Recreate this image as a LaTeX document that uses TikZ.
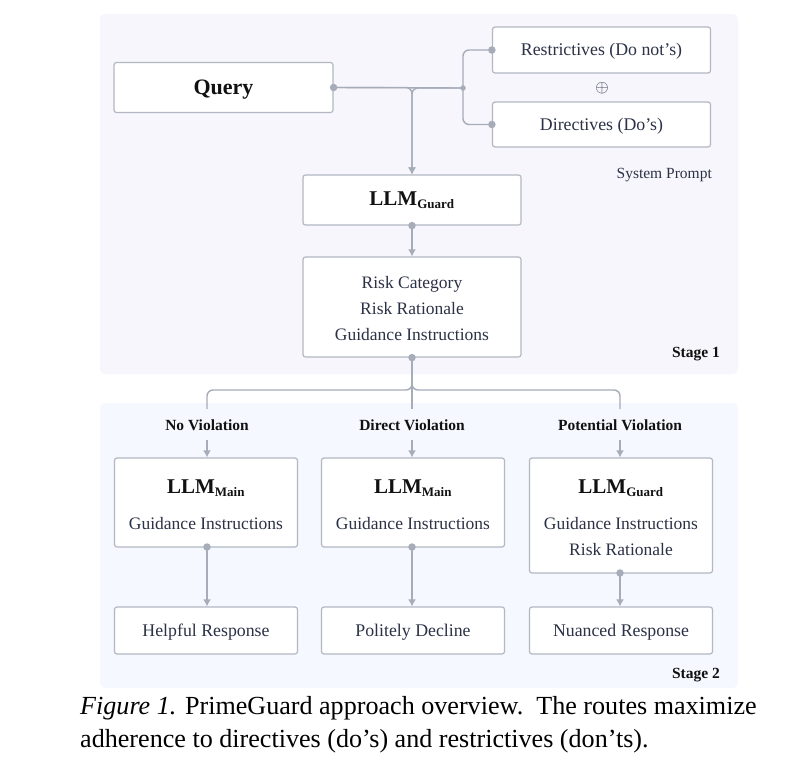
\documentclass[tikz,border=0pt]{standalone}
\usepackage{fontspec}
\setmainfont{Liberation Serif}
\usetikzlibrary{arrows.meta}
\definecolor{bgone}{HTML}{F7F6FC}
\definecolor{bgtwo}{HTML}{F5F8FE}
\definecolor{boxc}{HTML}{B2B7C3}
\definecolor{linec}{HTML}{A7ACB9}
\definecolor{txt}{HTML}{2B3146}
\definecolor{btxt}{HTML}{111111}
\tikzset{
  stagebg/.style={rounded corners=5pt, draw=none},
  box/.style={draw=boxc, fill=white, rounded corners=2.5pt, line width=1.2pt, inner sep=0pt, text=txt},
  conn/.style={draw=linec, line width=1.4pt},
  arr/.style={conn, -{Latex[length=7pt,width=8pt]}},
  cdot/.style={circle, fill=linec, inner sep=0pt, minimum size=7.5pt},
  reg/.style={text=txt, font=\fontsize{17.5}{21}\selectfont, inner sep=0pt},
  bld/.style={text=btxt, font=\fontsize{15.5}{19}\selectfont\bfseries, inner sep=0pt},
  llm/.style={text=btxt, font=\fontsize{21}{25}\selectfont\bfseries, inner sep=0pt},
  boxtxt/.style={font=\fontsize{17.8}{21}\selectfont, text height=11.8pt, text depth=0pt},
}
\newcommand{\sbx}[1]{\textsubscript{\fontsize{13}{15}\selectfont\bfseries #1}}
\begin{document}
\begin{tikzpicture}[x=1pt,y=-1pt]
\useasboundingbox (0,0) rectangle (800,763);
\fill[white] (0,0) rectangle (800,763);
% stage backgrounds
\fill[bgone, stagebg] (100,14) rectangle (738,374);
\fill[bgtwo, stagebg] (100,403) rectangle (738,688);
% stage 1 boxes
\node[box, minimum width=219pt, minimum height=50pt, text=btxt, font=\fontsize{22}{25}\selectfont\bfseries, text height=14.6pt, text depth=0pt] (query) at (223.5,87.5) {Query};
\node[box, boxtxt, minimum width=218pt, minimum height=46pt] (restr) at (601.5,50) {Restrictives (Do not’s)};
\node[box, boxtxt, minimum width=218pt, minimum height=45pt] (direc) at (601.5,124.5) {Directives (Do’s)};
\node[text=txt, inner sep=0pt, font=\fontsize{17}{18}\selectfont] (oplus) at (602,88) {$\oplus$};
\node[text=txt, inner sep=0pt, font=\fontsize{15.5}{18}\selectfont, anchor=east] (sysp) at (712,175) {System Prompt};
\node[box, minimum width=218pt, minimum height=50pt, text=btxt, font=\fontsize{21}{25}\selectfont\bfseries] (guard) at (412,200) {LLM\sbx{Guard}};
\node[box, minimum width=218pt, minimum height=100pt, align=center, font=\fontsize{17.5}{26}\selectfont] (risk) at (412,307) {\rule{0pt}{16pt}Risk Category\\Risk Rationale\\Guidance Instructions};
\node[bld, anchor=east] (st1) at (720,354) {Stage 1};
% stage 1 connectors
\coordinate (jdot) at (463,88);
\draw[conn] (query.east) -- (jdot);
\draw[conn, rounded corners=6pt] (jdot) |- (restr.west);
\draw[conn, rounded corners=6pt] (jdot) |- (direc.west);
\draw[arr, rounded corners=6pt] (query.east) -| (guard.north);
\draw[arr, rounded corners=6pt] (jdot) -| (guard.north);
\node[cdot] at (query.east) {};
\node[cdot, minimum size=5.5pt] at (jdot) {};
\node[cdot] at (restr.west) {};
\node[cdot] at (direc.west) {};
\draw[arr] (guard.south) -- (risk.north);
\node[cdot] at (guard.south) {};
% stage 2
\node[bld] (nv) at (207,425) {No Violation};
\node[bld] (dv) at (412,425) {Direct Violation};
\node[bld] (pv) at (620,425) {Potential Violation};
\coordinate (lend) at (207,409);
\coordinate (mend) at (412,409);
\coordinate (rend) at (620,409);
\draw[conn, rounded corners=6pt] (risk.south) |- (300,390) -| (lend);
\draw[conn, rounded corners=6pt] (risk.south) |- (500,390) -| (rend);
\draw[conn] (risk.south) -- (mend);
\node[cdot] at (risk.south) {};
\node[box, minimum width=183pt, minimum height=89pt] (b1) at (206,502.5) {};
\node[box, minimum width=183pt, minimum height=89pt] (b2) at (413,502.5) {};
\node[box, minimum width=183pt, minimum height=115pt] (b3) at (621,515.5) {};
\node[llm] (t1a) at (206,488) {LLM\sbx{Main}};
\node[reg] (t1b) at (206,524) {Guidance Instructions};
\node[llm] (t2a) at (413,488) {LLM\sbx{Main}};
\node[reg] (t2b) at (413,524) {Guidance Instructions};
\node[llm] (t3a) at (621,488) {LLM\sbx{Guard}};
\node[reg] (t3b) at (621,524) {Guidance Instructions};
\node[reg] (t3c) at (621,550) {Risk Rationale};
\coordinate (a1) at (207,440);
\coordinate (a2) at (412,440);
\coordinate (a3) at (620,440);
\draw[arr] (a1) -- (b1.north -| a1);
\draw[arr] (a2) -- (b2.north -| a2);
\draw[arr] (a3) -- (b3.north -| a3);
\node[box, boxtxt, minimum width=183pt, minimum height=47pt] (r1) at (206,630.5) {Helpful Response};
\node[box, boxtxt, minimum width=183pt, minimum height=47pt] (r2) at (413,630.5) {Politely Decline};
\node[box, boxtxt, minimum width=183pt, minimum height=47pt] (r3) at (621,630.5) {Nuanced Response};
\coordinate (d1) at (207,547);
\coordinate (d2) at (412,547);
\coordinate (d3) at (620,573);
\draw[arr] (d1) -- (r1.north -| d1);
\draw[arr] (d2) -- (r2.north -| d2);
\draw[arr] (d3) -- (r3.north -| d3);
\node[cdot] at (d1) {};
\node[cdot] at (d2) {};
\node[cdot] at (d3) {};
\node[bld, anchor=east] (st2) at (720,675) {Stage 2};
% caption
\node[anchor=north west, inner sep=0pt, align=left, font=\fontsize{26.1}{33}\selectfont] (cap) at (80,696) {\textit{Figure 1.} PrimeGuard approach overview.\ \ The routes maximize\\adherence to directives (do’s) and restrictives (don’ts).};
\end{tikzpicture}
\end{document}
